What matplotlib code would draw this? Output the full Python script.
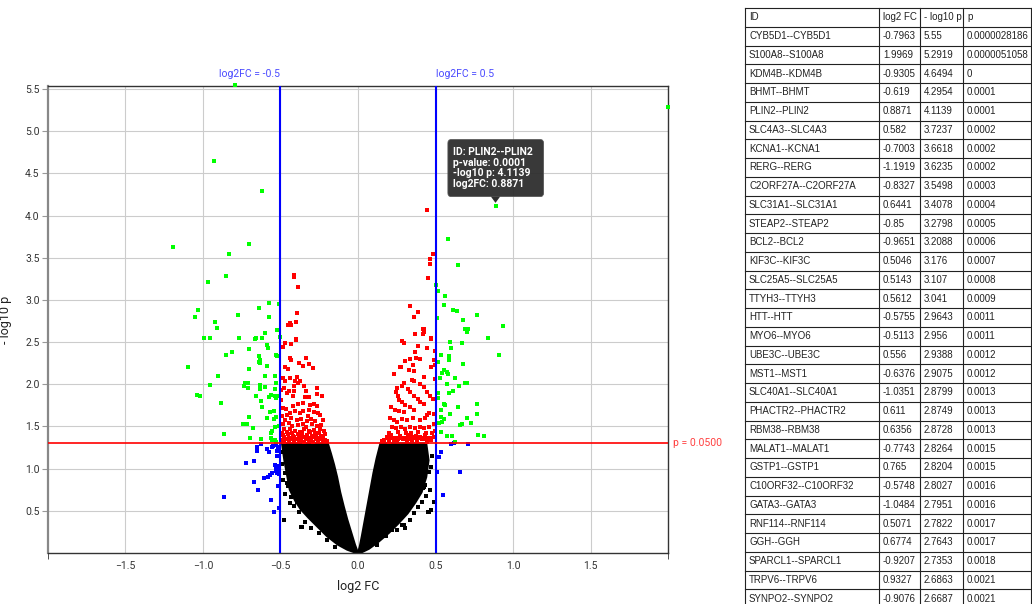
import matplotlib.pyplot as plt
import matplotlib.transforms as mtransforms
from matplotlib.patches import FancyBboxPatch, Polygon

plt.rcParams['font.family'] = ['Roboto', 'DejaVu Sans']

# table of top hits (these are the green points with the highest -log10 p)
ids = ['CYB5D1--CYB5D1', 'S100A8--S100A8', 'KDM4B--KDM4B', 'BHMT--BHMT', 'PLIN2--PLIN2',
       'SLC4A3--SLC4A3', 'KCNA1--KCNA1', 'RERG--RERG', 'C2ORF27A--C2ORF27A', 'SLC31A1--SLC31A1',
       'STEAP2--STEAP2', 'BCL2--BCL2', 'KIF3C--KIF3C', 'SLC25A5--SLC25A5', 'TTYH3--TTYH3',
       'HTT--HTT', 'MYO6--MYO6', 'UBE3C--UBE3C', 'MST1--MST1', 'SLC40A1--SLC40A1',
       'PHACTR2--PHACTR2', 'RBM38--RBM38', 'MALAT1--MALAT1', 'GSTP1--GSTP1', 'C10ORF32--C10ORF32',
       'GATA3--GATA3', 'RNF114--RNF114', 'GGH--GGH', 'SPARCL1--SPARCL1', 'TRPV6--TRPV6',
       'SYNPO2--SYNPO2']
fc = [-0.7963, 1.9969, -0.9305, -0.619, 0.8871, 0.582, -0.7003, -1.1919, -0.8327, 0.6441,
      -0.85, -0.9651, 0.5046, 0.5143, 0.5612, -0.5755, -0.5113, 0.556, -0.6376, -1.0351,
      0.611, 0.6356, -0.7743, 0.765, -0.5748, -1.0484, 0.5071, 0.6774, -0.9207, 0.9327, -0.9076]
nlogp = [5.55, 5.2919, 4.6494, 4.2954, 4.1139, 3.7237, 3.6618, 3.6235, 3.5498, 3.4078,
         3.2798, 3.2088, 3.176, 3.107, 3.041, 2.9643, 2.956, 2.9388, 2.9075, 2.8799,
         2.8749, 2.8728, 2.8264, 2.8204, 2.8027, 2.7951, 2.7822, 2.7643, 2.7353, 2.6863, 2.6687]
pvals = ['0.0000028186', '0.0000051058', '0', '0.0001', '0.0001', '0.0002', '0.0002', '0.0002',
         '0.0003', '0.0004', '0.0005', '0.0006', '0.0007', '0.0008', '0.0009', '0.0011', '0.0011',
         '0.0012', '0.0012', '0.0013', '0.0013', '0.0013', '0.0015', '0.0015', '0.0016', '0.0016',
         '0.0017', '0.0017', '0.0018', '0.0021', '0.0021']

# other significant points with |log2FC| > 0.5
green_x = [-0.525, -0.602, -0.503, -0.994, -0.953, -0.766, -0.667, -0.658, -0.617,
           -0.587, -0.581, -0.706, -0.815, -0.852, -0.639, -0.529, -0.523,
           -0.635, -0.639, -0.63, -0.585, -0.706, -1.099, -0.6, -0.901, -0.534,
           -0.731, -0.708, -0.735, -0.712, -0.955, -0.633, -0.635, -0.603, -0.53, -0.536,
           -1.039, -1.022, -0.658, -0.577, -0.561, -0.536, -0.512, -0.529,
           -0.882, -0.624, -0.619, -0.566, -0.54, -0.701, -0.589, -0.532, -0.545,
           -0.742, -0.716, -0.68, -0.534, -0.51, -0.557, -0.559, -0.867, -0.699, -0.628,
           -0.561, -0.555, -0.534, -0.527,
           0.692, 0.71, 0.703, 0.841, 0.594, 0.668, 0.602, 0.912, 0.535, 0.589,
           0.514, 0.585, 0.675, 0.557, 0.539, 0.578, 0.574, 0.527, 0.626,
           0.692, 0.70, 0.574, 0.649, 0.613, 0.585, 0.514, 0.516, 0.553, 0.561, 0.77,
           0.645, 0.535, 0.77, 0.595, 0.535, 0.557, 0.544, 0.525, 0.703,
           0.731, 0.673, 0.66, 0.535, 0.572, 0.604, 0.772, 0.815, 0.628]
green_y = [2.64, 2.603, 2.559, 2.544, 2.544, 2.55, 2.54, 2.55, 2.55,
           2.464, 2.425, 2.417, 2.378, 2.342, 2.338, 2.346, 2.331,
           2.287, 2.267, 2.251, 2.216, 2.176, 2.20, 2.093, 2.093, 2.097,
           2.01, 2.018, 1.982, 1.951, 1.987, 1.987, 1.947, 1.967, 2.018, 1.943,
           1.868, 1.857, 1.857, 1.852, 1.876, 1.864, 1.857, 1.833,
           1.774, 1.797, 1.733, 1.671, 1.683, 1.611, 1.603, 1.611, 1.584,
           1.532, 1.532, 1.477, 1.493, 1.50, 1.445, 1.418, 1.414, 1.366, 1.347,
           1.363, 1.335, 1.339, 1.312,
           2.658, 2.654, 2.615, 2.551, 2.50, 2.485, 2.432, 2.346, 2.346, 2.338,
           2.267, 2.287, 2.239, 2.165, 2.136, 2.117, 2.148, 2.07, 2.077,
           2.018, 2.014, 1.998, 1.975, 1.923, 1.899, 1.892, 1.833, 1.765, 1.754, 1.765,
           1.725, 1.691, 1.643, 1.643, 1.615, 1.588, 1.552, 1.544, 1.603,
           1.536, 1.532, 1.52, 1.434, 1.386, 1.383, 1.394, 1.386, 1.315]

# significant, small fold change
red_x = [-0.411, -0.411, -0.385, -0.394, -0.398, -0.441, -0.452, -0.430, -0.4,
         -0.471, -0.435, -0.4, -0.484, -0.437, -0.43, -0.335, -0.381, -0.353, -0.319, -0.293,
         -0.474, -0.454, -0.484, -0.439, -0.469, -0.396, -0.406, -0.385, -0.372, -0.411,
         -0.477, -0.495, -0.46, -0.448, -0.415, -0.422, -0.346, -0.335, -0.344,
         -0.265, -0.263, -0.235, -0.319, -0.495, -0.417, -0.387, -0.357, -0.312, -0.282, -0.265,
         -0.482, -0.467, -0.437, -0.406, -0.372, -0.355, -0.316, -0.286, -0.256, -0.248, -0.323,
         -0.488, -0.458, -0.471, -0.43, -0.394, -0.37, -0.329, -0.303, -0.275, -0.226,
         -0.486, -0.448, -0.424, -0.39, -0.355, -0.338, -0.297, -0.265, -0.239,
         -0.475, -0.441, -0.405, -0.377, -0.351, -0.319, -0.286, -0.248, -0.217,
         -0.484, -0.452, -0.419, -0.39, -0.359, -0.329, -0.297, -0.269, -0.239, -0.211,
         -0.48, -0.445, -0.413, -0.381, -0.351, -0.319, -0.289, -0.256, -0.224, -0.2,
         -0.492, -0.462, -0.43, -0.397, -0.366, -0.335, -0.304, -0.272, -0.242, -0.215,
         -0.478, -0.447, -0.416, -0.383, -0.352, -0.32, -0.29, -0.26, -0.228,
         -0.49, -0.46, -0.426, -0.364, -0.31, -0.278, -0.25,
         0.443, 0.486, 0.464, 0.462, 0.452, 0.337, 0.387, 0.363, 0.423,
         0.417, 0.426, 0.417, 0.365, 0.468, 0.473, 0.286, 0.299, 0.385, 0.445, 0.494, 0.37,
         0.333, 0.301, 0.376, 0.402, 0.492, 0.494, 0.352, 0.277, 0.268, 0.471, 0.361, 0.327,
         0.232, 0.423, 0.348, 0.359, 0.494, 0.294, 0.281, 0.402, 0.428,
         0.322, 0.337, 0.363, 0.252, 0.247, 0.255, 0.445, 0.466, 0.484,
         0.385, 0.402, 0.423, 0.262, 0.284, 0.305, 0.333,
         0.213, 0.241, 0.262, 0.294, 0.359, 0.46, 0.488, 0.445,
         0.208, 0.23, 0.252, 0.284, 0.316, 0.355, 0.402, 0.434, 0.488,
         0.219, 0.247, 0.277, 0.305, 0.333, 0.365, 0.397, 0.423, 0.455, 0.499,
         0.187, 0.213, 0.241, 0.268, 0.294, 0.32, 0.348, 0.376, 0.402, 0.43, 0.462, 0.488,
         0.155, 0.197, 0.252, 0.316, 0.381, 0.445,
         0.17, 0.2, 0.23, 0.26, 0.29, 0.32, 0.35, 0.38, 0.41, 0.44, 0.47,
         0.185, 0.215, 0.245, 0.275, 0.305, 0.335, 0.365, 0.395, 0.425, 0.455,
         0.2, 0.26, 0.31, 0.34, 0.39, 0.44, 0.48]
red_y = [3.294, 3.266, 3.155, 2.847, 2.737, 2.725, 2.698, 2.698, 2.532,
         2.488, 2.473, 2.524, 2.441, 2.314, 2.287, 2.307, 2.251, 2.216, 2.236, 2.188,
         2.2, 2.176, 2.073, 2.07, 2.041, 2.081, 2.038, 2.014, 2.034, 1.982,
         1.951, 1.931, 1.896, 1.916, 1.919, 1.86, 1.982, 1.916, 1.852,
         1.951, 1.88, 1.86, 1.852, 1.809, 1.745, 1.765, 1.774, 1.754, 1.765, 1.745,
         1.718, 1.706, 1.662, 1.683, 1.659, 1.683, 1.694, 1.671, 1.655, 1.631, 1.623,
         1.623, 1.635, 1.576, 1.596, 1.579, 1.591, 1.567, 1.584, 1.564, 1.572,
         1.525, 1.537, 1.508, 1.517, 1.525, 1.497, 1.525, 1.508, 1.52,
         1.466, 1.474, 1.449, 1.437, 1.466, 1.449, 1.462, 1.466, 1.449,
         1.398, 1.406, 1.39, 1.406, 1.386, 1.398, 1.39, 1.398, 1.386, 1.406,
         1.32, 1.33, 1.325, 1.33, 1.32, 1.328, 1.32, 1.33, 1.322, 1.328,
         1.345, 1.352, 1.347, 1.355, 1.344, 1.35, 1.356, 1.346, 1.352, 1.343,
         1.372, 1.365, 1.375, 1.368, 1.372, 1.366, 1.374, 1.369, 1.362,
         1.42, 1.43, 1.425, 1.42, 1.43, 1.418, 1.425,
         4.064, 3.539, 3.48, 3.424, 3.262, 2.93, 2.855, 2.796, 2.658,
         2.654, 2.615, 2.591, 2.595, 2.536, 2.551, 2.507, 2.492, 2.453, 2.432, 2.397, 2.385,
         2.302, 2.271, 2.307, 2.299, 2.29, 2.227, 2.227, 2.2, 2.204, 2.204, 2.156, 2.172,
         2.117, 2.081, 2.05, 2.038, 2.061, 2.018, 1.979, 2.006, 1.967,
         1.943, 1.904, 1.864, 1.959, 1.911, 1.86, 1.911, 1.864, 1.825,
         1.825, 1.786, 1.762, 1.813, 1.793, 1.754, 1.733,
         1.726, 1.694, 1.682, 1.667, 1.694, 1.662, 1.643, 1.635,
         1.596, 1.576, 1.556, 1.584, 1.572, 1.596, 1.576, 1.596, 1.525,
         1.496, 1.477, 1.496, 1.469, 1.493, 1.477, 1.496, 1.477, 1.493, 1.445,
         1.378, 1.398, 1.366, 1.386, 1.366, 1.394, 1.374, 1.386, 1.374, 1.394, 1.366, 1.378,
         1.327, 1.319, 1.335, 1.323, 1.331, 1.319,
         1.345, 1.35, 1.343, 1.352, 1.346, 1.355, 1.344, 1.35, 1.347, 1.353, 1.345,
         1.36, 1.365, 1.358, 1.366, 1.361, 1.357, 1.364, 1.36, 1.366, 1.358,
         1.42, 1.43, 1.425, 1.418, 1.43, 1.422, 1.42]

# large fold change, not significant
blue_x = [-0.626, -0.654, -0.652, -0.587, -0.574, -0.557, -0.548, -0.527, -0.519, -0.525, -0.525,
          -0.721, -0.671, -0.534, -0.527, -0.514, -0.519, -0.51, -0.529, -0.523, -0.512,
          -0.57, -0.557, -0.606, -0.583, -0.673, -0.516, -0.643, -0.863, -0.559, -0.51, -0.542,
          0.602, 0.617, 0.712, 0.537, 0.52, 0.51, 0.656, 0.55]
blue_y = [1.291, 1.26, 1.212, 1.229, 1.193, 1.26, 1.268, 1.28, 1.252, 1.209, 1.149,
          1.063, 1.086, 1.046, 1.023, 1.031, 0.992, 1.004, 0.972, 0.944, 0.932,
          0.928, 0.944, 0.892, 0.904, 0.841, 0.797, 0.743, 0.667, 0.624, 0.529, 0.489,
          1.291, 1.30, 1.291, 1.193, 1.134, 0.96, 0.963, 0.691]

# dense non-significant cloud, outlines of the two arms
left_arm_x = [-0.49, -0.475, -0.455, -0.44, -0.405, -0.37, -0.32, -0.26, -0.2, -0.13, -0.07,
              -0.025, 0.0, -0.02, -0.045, -0.07, -0.092, -0.115, -0.135, -0.155, -0.175, -0.195]
left_arm_y = [1.30, 1.10, 0.90, 0.75, 0.62, 0.52, 0.42, 0.31, 0.2, 0.1, 0.04,
              0.01, 0.0, 0.1, 0.25, 0.4, 0.55, 0.72, 0.9, 1.05, 1.18, 1.30]
right_arm_x = [0.0, 0.012, 0.025, 0.04, 0.055, 0.07, 0.085, 0.1, 0.12, 0.145,
               0.44, 0.455, 0.44, 0.41, 0.37, 0.32, 0.26, 0.2, 0.13, 0.07, 0.025]
right_arm_y = [0.0, 0.08, 0.2, 0.35, 0.5, 0.65, 0.8, 0.95, 1.12, 1.30,
               1.30, 1.1, 0.9, 0.72, 0.6, 0.47, 0.35, 0.24, 0.13, 0.05, 0.01]
black_x = [-0.475, -0.368, -0.469, -0.458, -0.383, -0.48, -0.361, -0.437, -0.469, -0.484, -0.469,
           -0.492, -0.488, -0.452, -0.43, -0.41, -0.395, -0.34, -0.3, -0.25, -0.2, -0.15,
           0.456, 0.413, 0.337, 0.466, 0.423, 0.456, 0.219, 0.294, 0.471, 0.449, 0.284,
           0.492, 0.417, 0.43, 0.475, 0.47, 0.44, 0.39, 0.36, 0.3, 0.25, 0.18, 0.12]
black_y = [0.391, 0.304, 0.695, 0.826, 0.489, 0.391, 0.304, 0.589, 0.70, 0.865, 0.944,
           1.2, 1.05, 0.8, 0.66, 0.56, 0.6, 0.37, 0.3, 0.24, 0.15, 0.07,
           0.489, 0.60, 0.391, 0.746, 0.786, 0.963, 0.273, 0.332, 0.51, 0.489, 0.332,
           0.608, 0.767, 0.806, 1.15, 1.02, 0.68, 0.55, 0.47, 0.3, 0.27, 0.2, 0.09]

fc_cut = 0.5
p_cut = 0.05
nlp_cut = 1.30103

fig = plt.figure(figsize=(10.32, 6.04), dpi=100)
ax = fig.add_axes([0.0465, 0.0844, 0.6008, 0.7732])

ax.fill(left_arm_x, left_arm_y, color='black', lw=1.5, zorder=2)
ax.fill(right_arm_x, right_arm_y, color='black', lw=1.5, zorder=2)
ms = 7
ax.scatter(black_x, black_y, s=ms, marker='s', c='black', lw=0, zorder=2)
ax.scatter(red_x, red_y, s=ms, marker='s', c='#ff0000', lw=0, zorder=3)
ax.scatter(blue_x, blue_y, s=ms, marker='s', c='#0000ff', lw=0, zorder=3)
ax.scatter(green_x, green_y, s=ms, marker='s', c='#00ff00', lw=0, zorder=3)
ax.scatter(fc, nlogp, s=ms, marker='s', c='#00ff00', lw=0, zorder=3, clip_on=False)

ax.axvline(-fc_cut, color='#0000ff', lw=1.5, zorder=4)
ax.axvline(fc_cut, color='#0000ff', lw=1.5, zorder=4)
ax.axhline(nlp_cut, color='#ff0000', lw=1.2, zorder=4)

trans = mtransforms.blended_transform_factory(ax.transData, ax.transAxes)
ax.text(-fc_cut, 1.025, 'log2FC = -0.5', transform=trans, ha='right', va='center',
        color='#4a4aff', fontsize=7.5)
ax.text(fc_cut, 1.025, 'log2FC = 0.5', transform=trans, ha='left', va='center',
        color='#4a4aff', fontsize=7.5)
ax.text(2.03, nlp_cut, 'p = %.4f' % p_cut, ha='left', va='center', color='#ff4040',
        fontsize=7.5, clip_on=False)

ax.set_xlim(-2, 2)
ax.set_ylim(0, 5.535)
ax.set_xticks([-1.5, -1.0, -0.5, 0.0, 0.5, 1.0, 1.5])
ax.set_xticks([-2, 2], minor=True)
ax.set_yticks([0.5, 1.0, 1.5, 2.0, 2.5, 3.0, 3.5, 4.0, 4.5, 5.0, 5.5])
ax.tick_params(axis='x', which='major', length=0, pad=6, labelsize=7.5, labelcolor='#333333')
ax.tick_params(axis='x', which='minor', length=4, color='#333333')
ax.tick_params(axis='y', length=4, color='#999999', labelsize=7.5, labelcolor='#333333', pad=2)
ax.grid(True, color='#cccccc', lw=0.8)
ax.set_axisbelow(True)
ax.spines['left'].set_color('#888888')
ax.spines['left'].set_linewidth(1.6)
for s in ['top', 'right', 'bottom']:
    ax.spines[s].set_color('#333333')
    ax.spines[s].set_linewidth(1.0)

ax.set_xlabel('log2 FC', fontsize=9, color='#222222')
ax.xaxis.set_label_coords(0.5, -0.058)
ax.set_ylabel('- log10 p', fontsize=9, color='#222222')
ax.yaxis.set_label_coords(-0.058, 0.5)

# tooltip on PLIN2
i = ids.index('PLIN2--PLIN2')
tx, ty = fc[i], nlogp[i]
box = FancyBboxPatch((0.58, 4.225), 0.617, 0.675, boxstyle='round,pad=0,rounding_size=0.02',
                     facecolor='#2e2e2e', edgecolor='#555555', lw=0.6, alpha=0.95, zorder=6,
                     mutation_aspect=5.535 / 4 * 1.5)
ax.add_patch(box)
ax.add_patch(Polygon([[tx - 0.03, 4.225], [tx + 0.03, 4.225], [tx, 4.15]],
                     closed=True, facecolor='#2e2e2e', edgecolor='none', zorder=6))
tip_lines = ['ID: ' + ids[i], 'p-value: ' + pvals[i], '-log10 p: %.4f' % ty, 'log2FC: %.4f' % tx]
for k, line in enumerate(tip_lines):
    ax.text(0.61, 4.751 - k * 0.125, line, color='white', fontweight='bold', fontsize=7.5,
            ha='left', va='center', zorder=7)

# table on the right, drawn in pixel coordinates
tab = fig.add_axes([0, 0, 1, 1])
tab.set_xlim(0, 1032)
tab.set_ylim(604, 0)
tab.axis('off')
col_edges = [745, 879, 920, 963, 1031]
row_h = 18.75
top = 8
header = ['ID', 'log2 FC', '- log10 p', 'p']
rows = [header] + [[ids[j], str(fc[j]), str(nlogp[j]), pvals[j]] for j in range(len(ids))]
n = len(rows)
for r in range(n + 1):
    yy = top + r * row_h
    tab.plot([col_edges[0], col_edges[-1]], [yy, yy], color='#222222', lw=0.8)
for cx in col_edges:
    tab.plot([cx, cx], [top, top + n * row_h], color='#222222', lw=0.8)
for r, row in enumerate(rows):
    for c, val in enumerate(row):
        tab.text(col_edges[c] + 4, top + r * row_h + row_h / 2, val, ha='left', va='center',
                 fontsize=7, color='#222222', family=['Liberation Sans', 'DejaVu Sans'])

fig.savefig('out.png', dpi=100)
